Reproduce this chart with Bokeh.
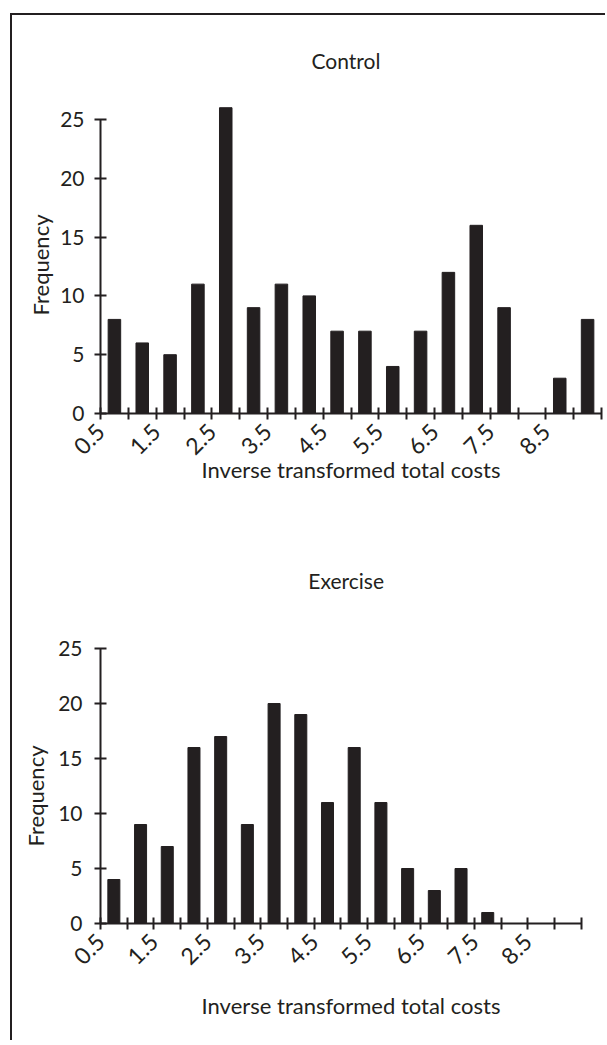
import math
from bokeh.plotting import figure
from bokeh.layouts import column, row
from bokeh.models import FixedTicker, Title, Spacer, Label
from bokeh.embed import file_html
from bokeh.resources import INLINE

# ---- data ----
bin_starts = [0.5, 1.0, 1.5, 2.0, 2.5, 3.0, 3.5, 4.0, 4.5, 5.0, 5.5, 6.0, 6.5, 7.0, 7.5, 8.0, 8.5, 9.0]
bin_width = 0.5
control_freq = [8, 6, 5, 11, 26, 9, 11, 10, 7, 7, 4, 7, 12, 16, 9, 0, 3, 8]
exercise_freq = [4, 9, 7, 16, 17, 9, 20, 19, 11, 16, 11, 5, 3, 5, 1, 0, 0, 0]
labeled_ticks = [0.5, 1.5, 2.5, 3.5, 4.5, 5.5, 6.5, 7.5, 8.5]
y_ticks = [0, 5, 10, 15, 20, 25]
titles = ["Control", "Exercise"]
x_title = "Inverse transformed total costs"
y_title = "Frequency"

INK = "#231f20"
FONT = "Lato"
FS = "21px"

centers = [s + bin_width / 2 for s in bin_starts]
all_edges = [bin_starts[0] + bin_width * i for i in range(len(bin_starts) + 1)]
minor = [e for e in all_edges if e not in labeled_ticks]


def make(title, freq, height, mt, mb, xend, ytop, title_xy,
         xlab_standoff, ylab_standoff, ylab_offset, ytick_standoff):
    p = figure(width=593, height=height, output_backend="svg", toolbar_location=None,
               x_range=(all_edges[0], xend), y_range=(0, ytop),
               min_border_left=87, min_border_right=4, min_border_top=mt, min_border_bottom=mb)
    p.outline_line_color = None
    p.grid.visible = False
    p.background_fill_color = "white"
    p.border_fill_color = "white"
    p.vbar(x=centers, top=freq, width=bin_width * 0.45, color=INK)

    # chart title, placed in the empty upper part of the plot area
    p.add_layout(Label(x=title_xy[0], y=title_xy[1], text=title,
                       text_align="center", text_baseline="middle",
                       text_font=FONT, text_font_size=FS, text_color=INK))

    xa = p.xaxis[0]
    xa.ticker = FixedTicker(ticks=labeled_ticks, minor_ticks=minor)
    xa.bounds = (all_edges[0], all_edges[-1])
    xa.major_label_orientation = math.pi / 4
    xa.axis_label = x_title
    ya = p.yaxis[0]
    ya.ticker = FixedTicker(ticks=y_ticks, minor_ticks=[])
    ya.bounds = (y_ticks[0], y_ticks[-1])
    for ax in (xa, ya):
        ax.axis_line_color = INK
        ax.axis_line_width = 2
        ax.major_tick_line_color = INK
        ax.major_tick_line_width = 2
        ax.minor_tick_line_color = INK
        ax.minor_tick_line_width = 2
        ax.major_tick_in = 6
        ax.major_tick_out = 6
        ax.minor_tick_in = 6
        ax.minor_tick_out = 6
        ax.major_label_text_font = FONT
        ax.major_label_text_font_size = FS
        ax.major_label_text_color = INK
        ax.axis_label_text_font = FONT
        ax.axis_label_text_font_size = "22px"
        ax.axis_label_text_font_style = "normal"
        ax.axis_label_text_color = INK
    xa.major_label_text_font_size = "23px"
    xa.major_label_standoff = 8
    xa.axis_label_standoff = xlab_standoff
    ya.major_label_standoff = ytick_standoff

    yt = Title(text=y_title, align="left", text_font=FONT, text_font_size="22px",
               text_font_style="normal", text_color=INK, standoff=ylab_standoff,
               offset=ylab_offset)
    p.add_layout(yt, "left")
    return p


p1 = make(titles[0], control_freq, 505, 28, 107, 9.5, 31.46, (4.91, 30.0), -9, 8, 98, 10)
p2 = make(titles[1], exercise_freq, 520, 34, 117, 9.88, 33.55, (5.1, 31.2), 17, 14, 77, 12)

inner = column(p1, p2, spacing=0,
               styles={"border-left": "2px solid #231f20", "border-top": "2px solid #231f20"})
layout = column(Spacer(height=13), row(Spacer(width=10), inner, spacing=0), spacing=0)

open("out.html", "w").write(file_html(layout, INLINE))
